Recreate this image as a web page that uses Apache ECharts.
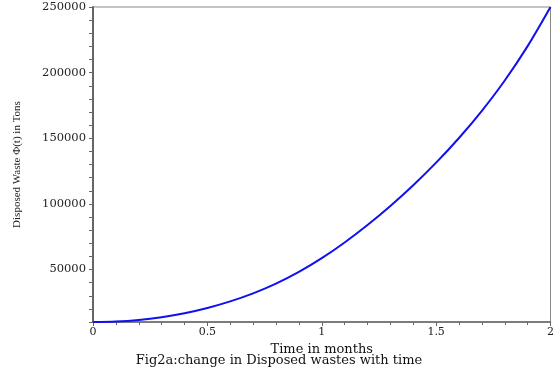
<!DOCTYPE html>
<html>
<head>
<meta charset="utf-8">
<title>Fig2a</title>
<script src="https://cdn.jsdelivr.net/npm/echarts@6/dist/echarts.min.js"></script>
<style>
    html, body { margin: 0; padding: 0; background: #fff; }
    #chart { width: 557px; height: 374px; }
</style>
</head>
<body>
<div id="chart"></div>
<script>
// 时间（月）
var timeMonths = [0, 0.1, 0.2, 0.3, 0.4, 0.5, 0.6, 0.7, 0.8, 0.9, 1.0,
    1.1, 1.2, 1.3, 1.4, 1.5, 1.6, 1.7, 1.8, 1.9, 2.0];
// 处理废物量 Φ(t)
var disposedWaste = [10000, 10400, 11600, 13700, 16700, 20700, 25700, 31800, 39200, 48100, 58600,
    70600, 83900, 98400, 114200, 131400, 150200, 170900, 194000, 220200, 250000];
var yTickLabels = [50000, 100000, 150000, 200000, 250000];

var serif = '"DejaVu Serif", serif';
var chart = echarts.init(document.getElementById('chart'));

var points = [];
for (var i = 0; i < timeMonths.length; i++) {
    points.push([timeMonths[i], disposedWaste[i]]);
}

var option = {
    backgroundColor: '#fff',
    animation: false,
    grid: {
        left: 93, right: 4, top: 7, bottom: 52,
        show: true, borderColor: '#888', borderWidth: 1
    },
    xAxis: {
        type: 'value',
        min: 0, max: 2, interval: 0.5,
        name: 'Time in months',
        nameLocation: 'middle',
        nameGap: 19,
        nameTextStyle: {fontFamily: serif, fontSize: 13, color: '#111'},
        axisLine: {show: true, lineStyle: {color: '#666', width: 1.5}},
        axisTick: {show: true, length: 4, lineStyle: {color: '#666'}},
        minorTick: {show: true, splitNumber: 5, length: 3, lineStyle: {color: '#666'}},
        splitLine: {show: false},
        axisLabel: {fontFamily: serif, fontSize: 11, color: '#222', margin: 5}
    },
    yAxis: {
        type: 'value',
        min: 10000, max: 250000, interval: 10000,
        name: 'Disposed Waste Φ(t) in Tons',
        nameLocation: 'middle',
        nameGap: 70,
        nameTextStyle: {fontFamily: '"Liberation Serif", serif', fontSize: 11, color: '#222'},
        axisLine: {show: true, lineStyle: {color: '#666', width: 2}},
        axisTick: {show: true, length: 4, lineStyle: {color: '#666'}},
        splitLine: {show: false},
        axisLabel: {
            fontFamily: serif, fontSize: 11.5, color: '#222', margin: 7,
            formatter: function (v) {
                return yTickLabels.indexOf(v) >= 0 ? String(v) : '';
            }
        }
    },
    graphic: [{
        type: 'text',
        x: 279,
        y: 354,
        style: {
            text: 'Fig2a:change in Disposed wastes with time',
            font: '13px ' + serif,
            fill: '#111',
            textAlign: 'center',
            textVerticalAlign: 'top'
        }
    }],
    series: [{
        type: 'line',
        data: points,
        smooth: 0.3,
        showSymbol: false,
        lineStyle: {color: '#1010f0', width: 2}
    }]
};
chart.setOption(option);
</script>
</body>
</html>
